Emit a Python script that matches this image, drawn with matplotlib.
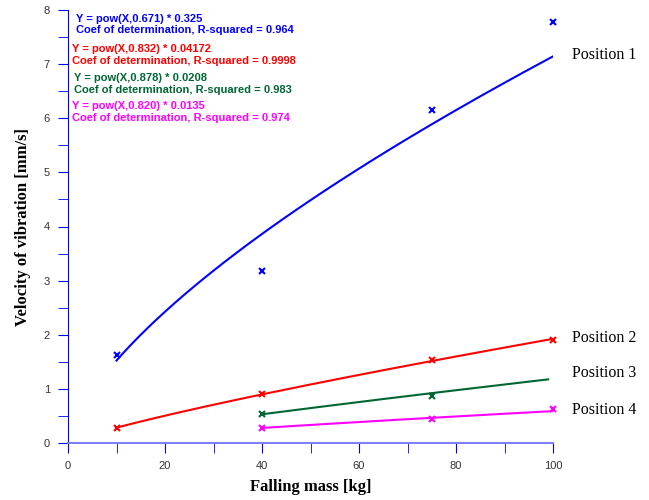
import numpy as np
import matplotlib.pyplot as plt

# measured data
mass = [10, 40, 75, 100]
pos1 = [1.63, 3.18, 6.15, 7.78]
pos2 = [0.28, 0.90, 1.54, 1.90]
mass3 = [40, 75]
pos3 = [0.54, 0.86]
mass4 = [40, 75, 100]
pos4 = [0.28, 0.44, 0.62]

# fitted power laws Y = a * X^b
fit_b = [0.671, 0.832, 0.878, 0.820]
fit_a = [0.325, 0.04172, 0.0208, 0.0135]
fit_r2 = ["0.964", "0.9998", "0.983", "0.974"]
fit_range = [(10, 100), (10, 100), (40, 99), (40, 100)]

colors = ['#0000ff', '#ff0000', '#006633', '#ff00ff']
labels = ['Position 1', 'Position 2', 'Position 3', 'Position 4']
label_y = [7.17, 1.94, 1.29, 0.61]

fig = plt.figure(figsize=(6.49, 5.0), dpi=100)
ax = fig.add_axes([0.1048, 0.114, 0.7473, 0.866])

xs = [mass, mass, mass3, mass4]
ys = [pos1, pos2, pos3, pos4]
for i in range(4):
    ax.plot(xs[i], ys[i], 'x', color=colors[i], ms=4, mew=1.5, clip_on=False)
    xf = np.linspace(fit_range[i][0], fit_range[i][1], 200)
    ax.plot(xf, fit_a[i] * xf ** fit_b[i], '-', color=colors[i], lw=1.5)
    ax.text(103.9, label_y[i], labels[i], fontsize=11.5, family='Liberation Serif',
            va='center', ha='left', clip_on=False)

# equation annotations
ann_pos = [(1.6, 7.93), (0.8, 7.37), (1.2, 6.83), (0.8, 6.32)]
for i in range(4):
    txt = "Y = pow(X,%s) * %s\nCoef of determination, R-squared = %s" % (
        f"{fit_b[i]:.3f}", str(fit_a[i]), fit_r2[i])
    ax.text(ann_pos[i][0], ann_pos[i][1], txt, color=colors[i], fontsize=8,
            fontweight='bold', family='Liberation Sans', va='top', ha='left',
            linespacing=1.2)

ax.set_xlim(0, 100)
ax.set_ylim(0, 8)
ax.set_xticks(np.arange(0, 101, 20))
ax.set_xticks(np.arange(0, 101, 10), minor=True)
ax.set_yticks(np.arange(0, 9, 1))
ax.set_yticks(np.arange(0, 8.1, 0.5), minor=True)

ax.spines['top'].set_visible(False)
ax.spines['right'].set_visible(False)
ax.spines['left'].set_color('#0000ff')
ax.spines['bottom'].set_color('#8080ff')
ax.spines['bottom'].set_linewidth(1.5)
ax.tick_params(axis='x', which='both', direction='out', length=7, color='#0000ff',
               labelsize=8, pad=6)
ax.tick_params(axis='y', which='both', direction='out', length=7, color='#0000ff',
               labelsize=8, pad=6)
for lab in ax.get_xticklabels() + ax.get_yticklabels():
    lab.set_family('Liberation Sans')
    lab.set_color('#333333')

ax.set_xlabel('Falling mass [kg]', fontsize=12, fontweight='bold',
              family='Liberation Serif', labelpad=6)
ax.set_ylabel('Velocity of vibration [mm/s]', fontsize=12, fontweight='bold',
              family='Liberation Serif', labelpad=9)

fig.savefig('out.png', dpi=100)
